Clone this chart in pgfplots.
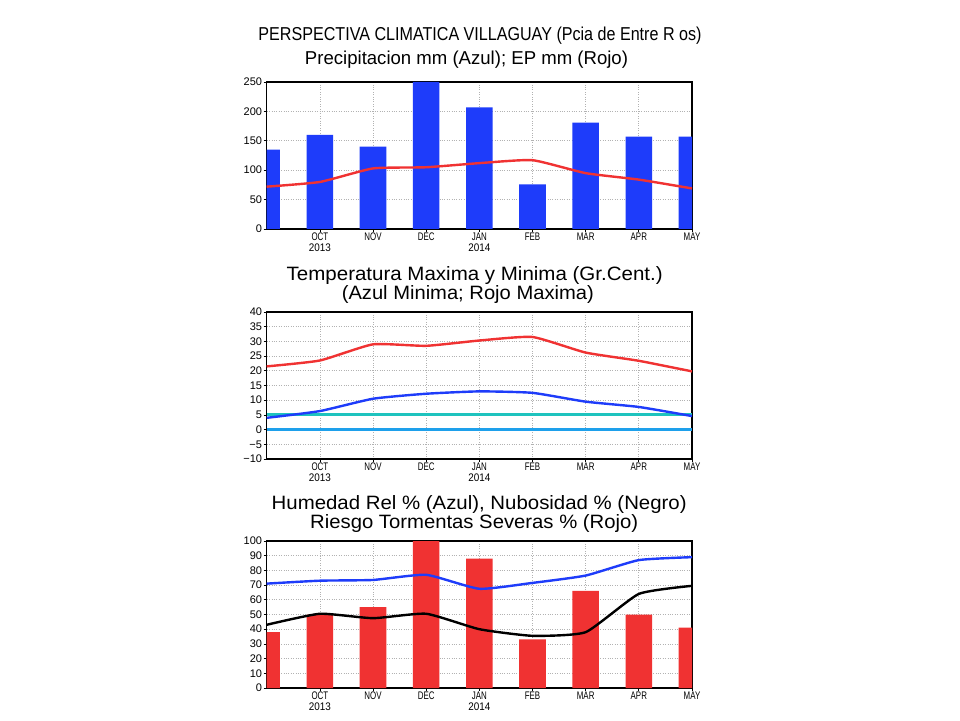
\documentclass[border=0pt]{standalone}
\usepackage{fontspec}
\setmainfont{Liberation Sans}
\usepackage{graphicx}
\usepackage{pgfplots}
\pgfplotsset{compat=1.18}

\definecolor{gblue}{RGB}{30,60,250}
\definecolor{gred}{RGB}{240,50,50}
\definecolor{gcyan}{RGB}{30,195,190}
\definecolor{glblue}{RGB}{30,160,235}

\newcommand{\m}[1]{\scalebox{0.72}[1]{#1}}

\pgfplotsset{
 gr/.style={
   scale only axis, width=425.3pt, height=147pt, anchor=south west,
   xmin=0, xmax=8, xtick={1,...,8},
   xticklabels={\shortstack{\m{OCT}\\\scalebox{0.9}[1]{2013}},\m{NOV},\m{DEC},\shortstack{\m{JAN}\\\scalebox{0.9}[1]{2014}},\m{FEB},\m{MAR},\m{APR},\m{MAY}},
   tick align=outside, major tick length=3pt,
   tick style={black, line width=0.7pt},
   grid=major, grid style={dotted, gray!60, line width=0.7pt},
   axis line style={black, line width=1.1pt},
   ticklabel style={font=\fontsize{11}{11}\selectfont},
   xticklabel style={inner sep=1pt},
   yticklabel style={inner sep=1.5pt},
   /pgf/number format/assume math mode=true,
   tick pos=left,
 }
}

\begin{document}
\begin{tikzpicture}
\path[use as bounding box, fill=white] (0,0) rectangle (960pt,720pt);

\node[inner sep=0] at (480pt,684pt) {\resizebox*{443pt}{17.4pt}{PERSPECTIVA CLIMATICA VILLAGUAY (Pcia de Entre R os)}};
\node[inner sep=0] at (466.5pt,660.3pt) {\resizebox*{323pt}{17.4pt}{Precipitacion mm (Azul); EP mm (Rojo)}};
\node[inner sep=0] at (474.7pt,444.4pt) {\resizebox*{376pt}{18pt}{Temperatura Maxima y Minima (Gr.Cent.)}};
\node[inner sep=0] at (467.8pt,425.8pt) {\resizebox*{252pt}{18pt}{(Azul Minima; Rojo Maxima)}};
\node[inner sep=0] at (479.2pt,215.2pt) {\resizebox*{415pt}{18pt}{Humedad Rel \% (Azul), Nubosidad \% (Negro)}};
\node[inner sep=0] at (474.2pt,196.4pt) {\resizebox*{328pt}{18pt}{Riesgo Tormentas Severas \% (Rojo)}};

% Top: precipitation
\begin{axis}[gr, at={(266.7pt,491pt)}, ymin=0, ymax=250, ytick={0,50,...,250}]
\addplot[ybar, bar width=0.5, fill=gblue, draw=none] coordinates {(0,135) (1,160) (2,140) (3,250) (4,207) (5,76) (6,181) (7,157) (8,157)};
\addplot[gred, line width=2.4pt, smooth, tension=0.3] coordinates {(0,72) (1,80) (2,103) (3,105) (4,112) (5,117) (6,95) (7,84) (8,69)};
\end{axis}

% Middle: temperature
\begin{axis}[gr, at={(266.7pt,261pt)}, ymin=-10, ymax=40, ytick={-10,-5,...,40},
  yticklabels={−10,−5,0,5,10,15,20,25,30,35,40}]
\addplot[gcyan, line width=3pt] coordinates {(0,5) (8,5)};
\addplot[glblue, line width=3pt] coordinates {(0,0) (8,0)};
\addplot[gred, line width=2.4pt, smooth, tension=0.3] coordinates {(0,21.5) (1,23.5) (2,29) (3,28.5) (4,30.3) (5,31.5) (6,26.2) (7,23.4) (8,19.8)};
\addplot[gblue, line width=2.4pt, smooth, tension=0.3] coordinates {(0,4) (1,6.3) (2,10.5) (3,12.2) (4,13) (5,12.5) (6,9.5) (7,7.7) (8,4.6)};
\end{axis}

% Bottom: humidity etc.
\begin{axis}[gr, at={(266.7pt,32pt)}, ymin=0, ymax=100, ytick={0,10,...,100}]
\addplot[ybar, bar width=0.5, fill=gred, draw=none] coordinates {(0,38) (1,50) (2,55) (3,100) (4,88) (5,33) (6,66) (7,50) (8,41)};
\addplot[gblue, line width=2.4pt, smooth, tension=0.3] coordinates {(0,71) (1,73) (2,73.5) (3,77) (4,67.5) (5,71.5) (6,76.5) (7,87) (8,89)};
\addplot[black, line width=2.4pt, smooth, tension=0.3] coordinates {(0,43) (1,50.5) (2,47.5) (3,50.5) (4,40) (5,35.5) (6,38) (7,64) (8,69.5)};
\end{axis}
\end{tikzpicture}
\end{document}
